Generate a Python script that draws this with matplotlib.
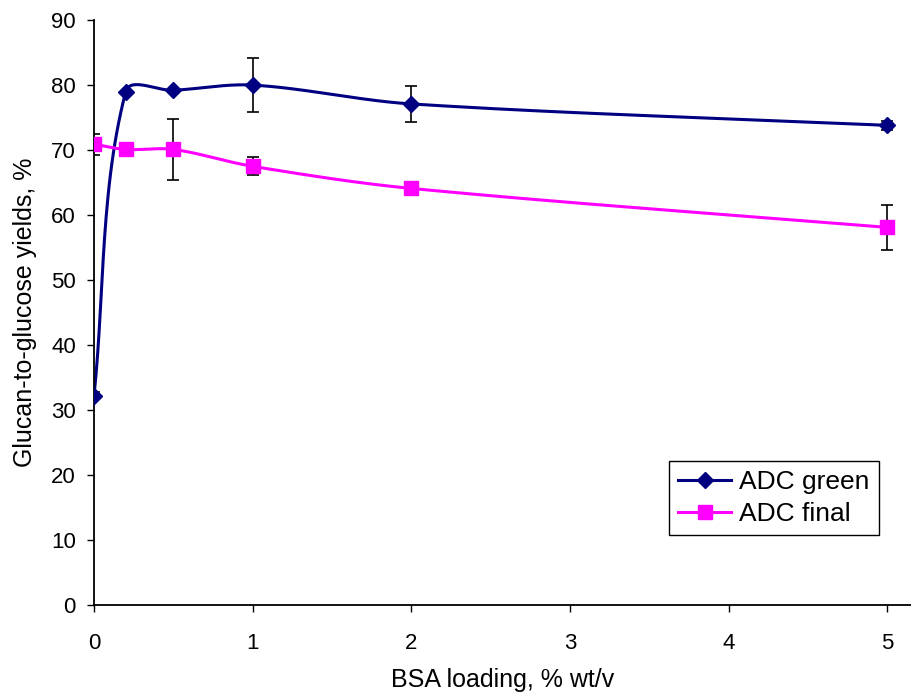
import numpy as np
import matplotlib
matplotlib.use("Agg")
import matplotlib.pyplot as plt

plt.rcParams['font.family'] = ['Liberation Sans', 'DejaVu Sans']

# BSA loading (% wt/v) and glucan-to-glucose yields (%)
bsa = [0, 0.2, 0.5, 1, 2, 5]
green = [32.2, 79.0, 79.2, 80.0, 77.1, 73.8]
green_err = [0.5, 0.0, 0.0, 4.1, 2.8, 0.7]
final = [70.9, 70.1, 70.1, 67.5, 64.1, 58.1]
final_err = [1.6, 0.0, 4.7, 1.4, 0.0, 3.4]

xticks = [0, 1, 2, 3, 4, 5]
yticks = [0, 10, 20, 30, 40, 50, 60, 70, 80, 90]


def smooth(x, y, sx, sy, n=30):
    # bezier smoothing through the points; tangent from neighbours,
    # handle length limited to a third of the segment (screen-like units)
    px = np.asarray(x, float) * sx
    py = np.asarray(y, float) * sy
    pts = np.column_stack([px, py])

    def tangent(i):
        a = pts[max(i - 1, 0)]
        b = pts[min(i + 1, len(pts) - 1)]
        d = b - a
        return d / np.hypot(*d)

    out = [pts[0]]
    for i in range(len(pts) - 1):
        p1 = pts[i]
        p2 = pts[i + 1]
        L = np.hypot(*(p2 - p1)) / 3.0
        c1 = p1 + tangent(i) * L
        c2 = p2 - tangent(i + 1) * L
        t = np.linspace(0, 1, n)[1:, None]
        seg = ((1 - t) ** 3) * p1 + 3 * ((1 - t) ** 2) * t * c1 + 3 * (1 - t) * t ** 2 * c2 + t ** 3 * p2
        out.extend(seg)
    out = np.array(out)
    return out[:, 0] / sx, out[:, 1] / sy


fig = plt.figure(figsize=(9.11, 6.93), dpi=100)
ax = fig.add_axes([0.1032, 0.127, 0.8968, 0.844])

sx, sy = 158.6, 6.5
navy = '#000080'
mag = '#FF00FF'

gx, gy = smooth(bsa, green, sx, sy)
fx, fy = smooth(bsa, final, sx, sy)
ax.plot(gx, gy, color=navy, lw=2.2, zorder=2)
ax.plot(fx, fy, color=mag, lw=2.2, zorder=2)

ax.errorbar(bsa, green, yerr=green_err, fmt='none', ecolor='black', elinewidth=1.2,
            capsize=4, capthick=1.2, zorder=3)
ax.errorbar(bsa, final, yerr=final_err, fmt='none', ecolor='black', elinewidth=1.2,
            capsize=4, capthick=1.2, zorder=3)
ax.plot(bsa, green, 'D', color=navy, ms=8, mec=navy, zorder=4)
ax.plot(bsa, final, 's', color=mag, ms=10, mec=mag, zorder=4)

# legend handles
ax.plot([], [], color=navy, lw=2.2, marker='D', ms=8, label='ADC green')
ax.plot([], [], color=mag, lw=2.2, marker='s', ms=10, label='ADC final')
leg = ax.legend(loc='upper left', bbox_to_anchor=(0.704, 0.246), fontsize=19,
                frameon=True, fancybox=False, edgecolor='black', framealpha=1,
                handlelength=2.0, borderpad=0.35, labelspacing=0.3, handletextpad=0.3,
                borderaxespad=0)
leg.get_frame().set_linewidth(1.0)

ax.set_xlim(0, 5.15)
ax.set_ylim(0, 90)
ax.set_xticks(xticks)
ax.set_yticks(yticks)
ax.spines['top'].set_visible(False)
ax.spines['right'].set_visible(False)
ax.spines['left'].set_linewidth(1.3)
ax.spines['bottom'].set_linewidth(1.3)
ax.tick_params(axis='y', direction='out', length=5, width=1, labelsize=16, pad=8)
ax.tick_params(axis='x', direction='out', length=5, width=1, labelsize=16, pad=15)
ax.set_xlabel('BSA loading, % wt/v', fontsize=18, va='center')
ax.xaxis.set_label_coords(0.5, -0.128)
ax.set_ylabel('Glucan-to-glucose yields, %', fontsize=18, va='center')
ax.yaxis.set_label_coords(-0.084, 0.5)

fig.savefig('out.png', dpi=100)
